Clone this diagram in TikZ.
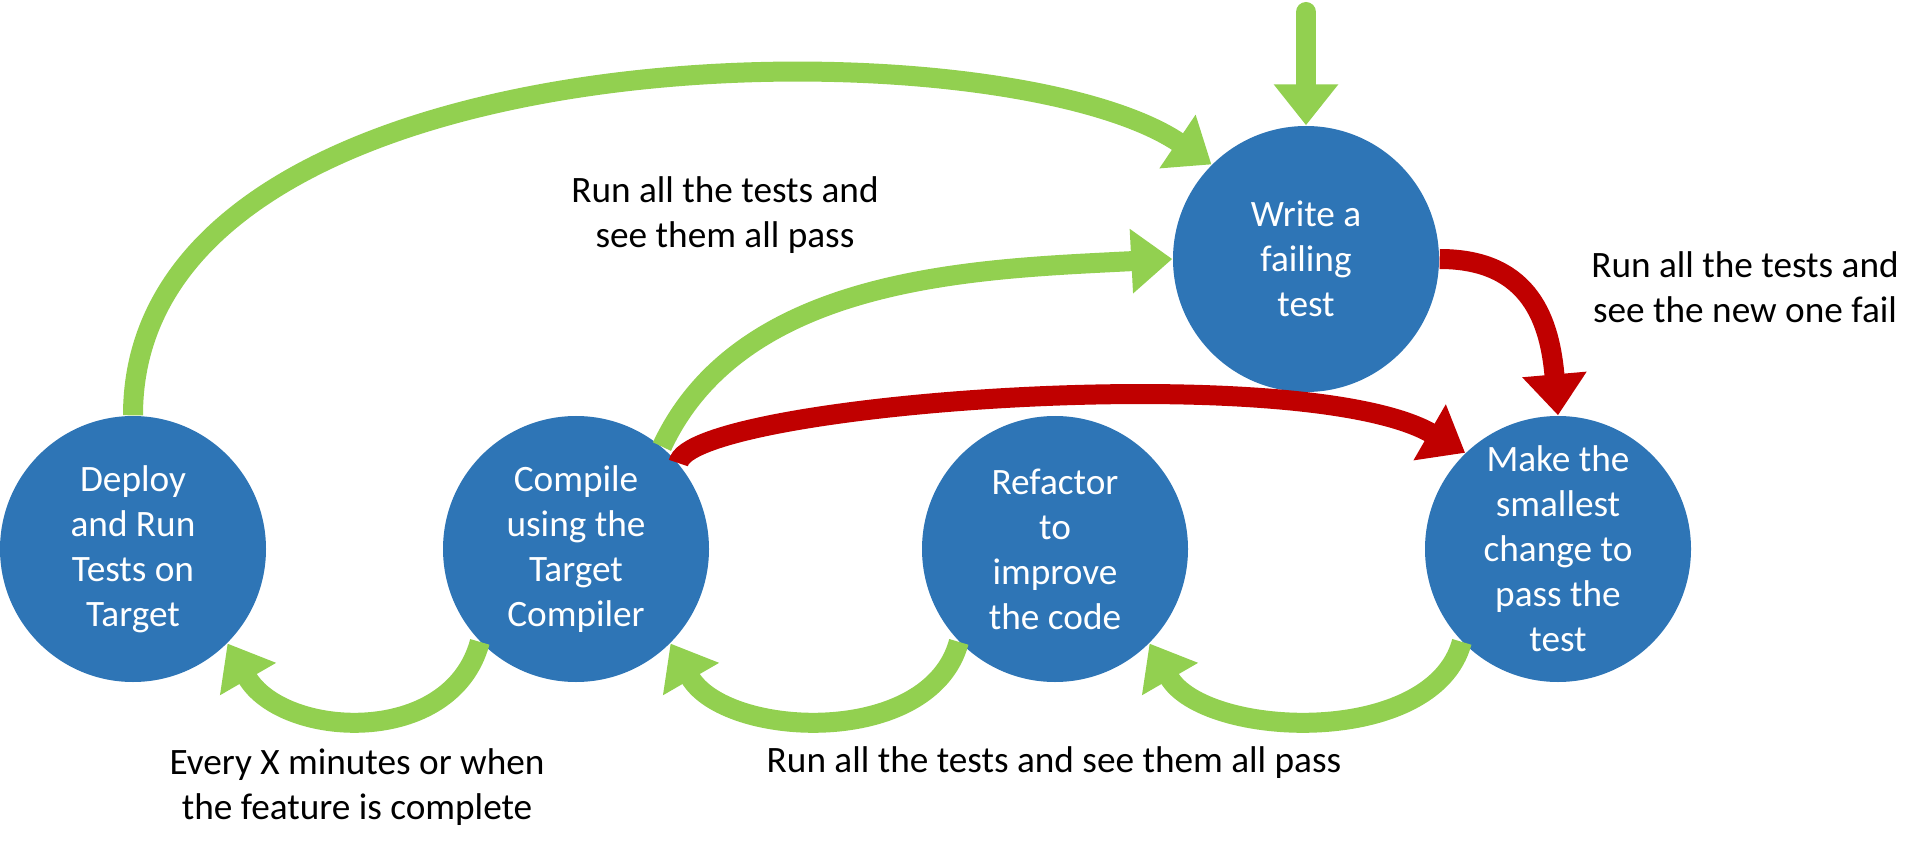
\documentclass[tikz,border=0pt]{standalone}
\usepackage{fontspec}
\setmainfont{Carlito}
\usetikzlibrary{arrows.meta}
\definecolor{stageblue}{HTML}{2E75B6}
\definecolor{passgreen}{HTML}{92D050}
\definecolor{failred}{HTML}{C00000}
\begin{document}
\begin{tikzpicture}[
  stage/.style={circle, fill=stageblue, minimum size=2.66cm, inner sep=0pt, text=white, align=center},
  pass/.style={draw=passgreen, line width=2mm, -{Triangle[length=4.1mm, width=6.2mm]}},
  fail/.style={draw=failred, line width=2mm, -{Triangle[length=4.1mm, width=6.2mm]}},
  note/.style={align=center},
  font=\fontsize{10.6}{12.8}\selectfont
]
\useasboundingbox (0,0) rectangle (19.31,8.51);

% Stages
\node[stage] (dep) at (1.33,3.02) {Deploy\\and Run\\Tests on\\Target};
\node[stage, right of=dep, node distance=4.43cm] (cmp) {Compile\\using the\\Target\\Compiler};
\node[stage, right of=cmp, node distance=4.79cm] (ref) {Refactor\\to\\improve\\the code};
\node[stage, right of=ref, node distance=5.03cm] (mk) {Make the\\smallest\\change to\\pass the\\test};
\node[stage] (wrt) at (13.06,5.92) {Write a\\failing\\test};
\coordinate[above of=wrt, node distance=2.47cm] (entry);

% Connectors
\draw[pass, line cap=round] (entry) -- (wrt);
\draw[pass] (dep.north) to[out=90, in=146, out distance=3.9cm, in distance=2.6cm] (wrt.135);
\draw[pass] (cmp.50) to[out=65, in=183, looseness=0.9] (wrt.west);
\draw[fail] (cmp.40) to[out=80, in=150, out distance=0.6cm, in distance=1.9cm] (mk.134);
\draw[fail] (wrt.east) to[out=0, in=95, looseness=1.2] (mk.north);
\draw[pass] (cmp.224) to[out=255, in=300, distance=1.1cm] (dep.-45);
\draw[pass] (ref.224) to[out=255, in=300, distance=1.1cm] (cmp.-45);
\draw[pass] (mk.224) to[out=255, in=300, distance=1.1cm] (ref.-45);

% Labels
\node[note] (lbltop) at (7.25,6.36) {Run all the tests and\\see them all pass};
\node[note] (lblfail) at (17.45,5.64) {Run all the tests and\\see the new one fail};
\node[note] (lblref) at (10.54,0.88) {Run all the tests and see them all pass};
\node[note] (lbldep) at (3.57,0.64) {Every X minutes or when\\the feature is complete};
\end{tikzpicture}
\end{document}
